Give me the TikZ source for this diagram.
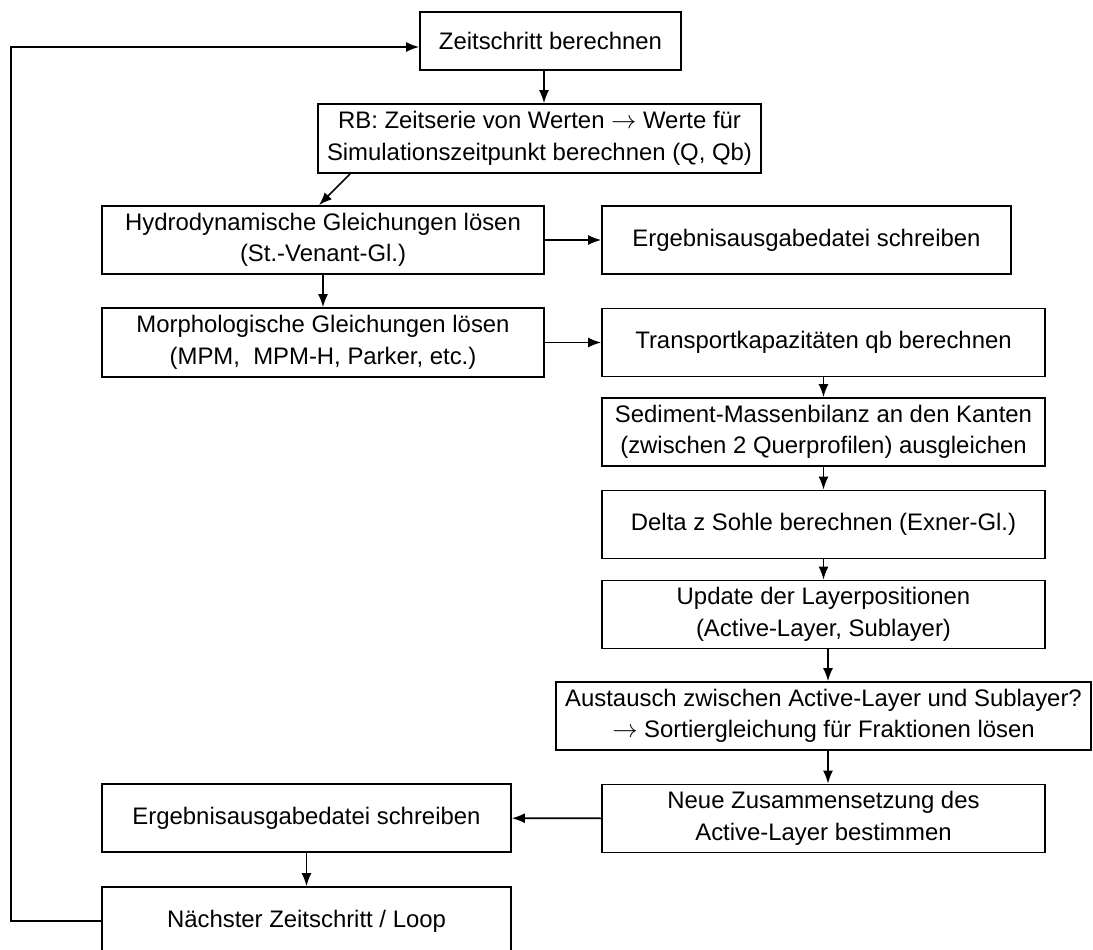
\documentclass[tikz,border=0pt]{standalone}
\usepackage{fontspec}
\setmainfont{Liberation Sans}
\usetikzlibrary{arrows.meta}
\newcommand\boxfont{\fontsize{13.6}{18}\selectfont}
\newcommand\ra{$\rightarrow$}
\begin{document}
\begin{tikzpicture}[x=0.02cm,y=-0.02cm,
  box/.style={draw,line width=1pt,align=center,font=\boxfont,inner sep=2pt,minimum height=1.36cm},
  arr/.style={line width=0.9pt,-{Latex[length=2.6mm,width=2mm]}}]
  \useasboundingbox[fill=white] (0,0) rectangle (1093,950);
  \node[box,minimum width=5.22cm,minimum height=1.16cm] (zeit) at (550.5,41) {Zeitschritt berechnen};
  \node[box,minimum width=8.86cm,minimum height=1.38cm] (rb) at (539.5,138.5)
    {RB: Zeitserie von Werten \ra\ Werte für\\Simulationszeitpunkt berechnen (Q, Qb)};
  \node[box,minimum width=8.84cm] (hydro) at (323,240) {Hydrodynamische Gleichungen lösen\\(St.-Venant-Gl.)};
  \node[box,minimum width=8.18cm] (erg1) at (806.5,240) {Ergebnisausgabedatei schreiben};
  \node[box,minimum width=8.84cm,minimum height=1.38cm] (morph) at (323,342.5)
    {Morphologische Gleichungen lösen\\(MPM,\ \ MPM-H, Parker, etc.)};
  \foreach \name/\y/\txt in {
    trans/342.5/{Transportkapazitäten qb berechnen},
    sed/432/{Sediment-Massenbilanz an den Kanten\\(zwischen 2 Querprofilen) ausgleichen},
    delta/524.5/{Delta z Sohle berechnen (Exner-Gl.)},
    update/614.5/{Update der Layerpositionen\\(Active-Layer, Sublayer)},
    neue/818.5/{Neue Zusammensetzung des\\Active-Layer bestimmen}}
    \node[box,minimum width=8.86cm] (\name) at (823.5,\y) {\txt};
  \node[box,minimum width=10.7cm] (aust) at (823.5,716)
    {Austausch zwischen Active-Layer und Sublayer?\\\ra\ Sortiergleichung für Fraktionen lösen};
  \node[box,minimum width=8.18cm] (erg2) at (306.5,818) {Ergebnisausgabedatei schreiben};
  \node[box,minimum width=8.18cm] (next) at (306.5,921) {Nächster Zeitschritt / Loop};

  \draw[arr] ([xshift=-0.13cm]zeit.south) -- ([xshift=-0.13cm]zeit.south |- rb.north);
  \draw[arr] ([xshift=0.66cm]rb.south west) -- ([xshift=-0.08cm]hydro.north);
  \draw[arr] (hydro) -- (erg1);
  \draw[arr] (hydro) -- (morph);
  \draw[arr] (morph) -- (trans);
  \foreach \a/\b in {trans/sed,sed/delta,delta/update}
    \draw[arr] (\a) -- (\b);
  \draw[arr] ([xshift=0.09cm]update.south) -- ([xshift=0.09cm]update.south |- aust.north);
  \draw[arr] ([xshift=0.09cm]aust.south) -- ([xshift=0.09cm]aust.south |- neue.north);
  \draw[arr] (neue) -- (erg2);
  \draw[arr] (erg2) -- (next);
  \draw[arr] (next.west) -- ++(-90,0) |- ([yshift=-0.12cm]zeit.west);
\end{tikzpicture}
\end{document}
